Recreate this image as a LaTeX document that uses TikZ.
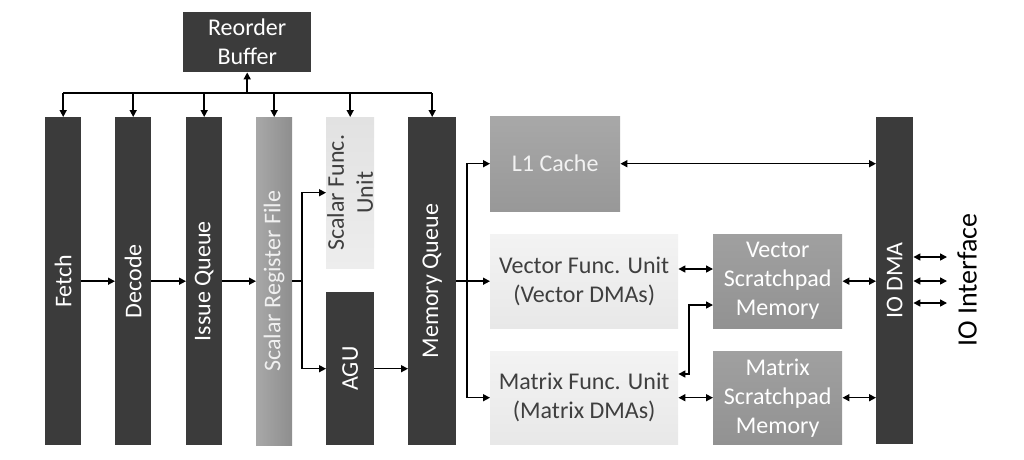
\documentclass[tikz,border=0pt]{standalone}
\usepackage{fontspec}
\setmainfont{Carlito}
\usetikzlibrary{arrows.meta,calc}
\definecolor{darkbar}{HTML}{3B3B3B}
\definecolor{srfL}{HTML}{A8A8A8}
\definecolor{srfR}{HTML}{8E8E8E}
\definecolor{sfuT}{HTML}{E2E2E2}
\definecolor{sfuB}{HTML}{EDEDED}
\definecolor{lgT}{HTML}{A8A8A8}
\definecolor{lgB}{HTML}{989898}
\definecolor{paleT}{HTML}{F3F3F3}
\definecolor{paleB}{HTML}{E8E8E8}
\definecolor{spT}{HTML}{A0A0A0}
\definecolor{spB}{HTML}{929292}
\definecolor{darktext}{HTML}{3F3F3F}
\begin{document}
\begin{tikzpicture}[x=1pt,y=-1pt,
  txt/.style={font=\fontsize{24}{29}\selectfont},
  box/.style={draw=none,inner sep=0pt,anchor=north west,txt,align=center},
  dark/.style={box,fill=darkbar,text=white},
  lab/.style={rotate=90,inner sep=0pt,txt,align=center},
  plain/.style={line width=1.5pt},
  conn/.style={plain,-{Triangle[length=7pt,width=7pt]}},
  bi/.style={plain,{Triangle[length=7pt,width=7pt]}-{Triangle[length=7pt,width=7pt]}}]
\useasboundingbox (0,0) rectangle (1024,459);

% boxes
\node[dark,minimum width=128pt,minimum height=60pt] (rob) at (183,12) {Reorder\\Buffer};
\node[dark,minimum width=36pt,minimum height=328pt,label={[lab,text=white]center:Fetch}] (fetch) at (45,117) {};
\node[dark,minimum width=36pt,minimum height=328pt,label={[lab,text=white]center:Decode}] (decode) at (115,117) {};
\node[dark,minimum width=36pt,minimum height=328pt,label={[lab,text=white]center:Issue Queue}] (iq) at (186,117) {};
\node[box,left color=srfL,right color=srfR,minimum width=36pt,minimum height=328pt,label={[lab,text=white!94!black]center:Scalar Register File}] (srf) at (256,117) {};
\node[box,top color=sfuT,bottom color=sfuB,minimum width=48pt,minimum height=151pt,label={[lab,text=darktext]center:Scalar Func.\\Unit}] (sfu) at (326,117) {};
\node[dark,minimum width=48pt,minimum height=153pt,label={[lab,text=white]center:AGU}] (agu) at (326,292) {};
\node[dark,minimum width=48pt,minimum height=328pt,label={[lab,text=white]center:Memory Queue}] (mq) at (408,117) {};
\node[box,top color=lgT,bottom color=lgB,text=white!95!black,minimum width=130pt,minimum height=95pt] (l1) at (490,116) {L1 Cache};
\node[box,top color=paleT,bottom color=paleB,text=darktext,minimum width=188pt,minimum height=94pt] (vfu) at (490,234) {Vector Func. Unit\\(Vector DMAs)};
\node[box,top color=paleT,bottom color=paleB,text=darktext,minimum width=188pt,minimum height=93pt] (mfu) at (490,351) {Matrix Func. Unit\\(Matrix DMAs)};
\node[box,top color=spT,bottom color=spB,text=white,minimum width=129pt,minimum height=94pt] (vsp) at (713,234) {Vector\\Scratchpad\\Memory};
\node[box,top color=spT,bottom color=spB,text=white,minimum width=129pt,minimum height=93pt] (msp) at (713,351) {Matrix\\Scratchpad\\Memory};
\node[dark,minimum width=37pt,minimum height=327pt,label={[lab,text=white]center:IO DMA}] (io) at (876,117) {};
\node[rotate=90,inner sep=0pt,font=\fontsize{28}{34}\selectfont] (ioif) at (967,280) {IO Interface};

% helper coordinates
\coordinate (bus) at (0,93);
\coordinate (sx) at (302,0);
\coordinate (mx) at (467,0);
\coordinate (jx) at (689,0);
\coordinate (y269) at (0,269);
\coordinate (y305) at (0,305);
\coordinate (y374) at (0,374);
\coordinate (o1) at (947,257);
\coordinate (o2) at (947,281);
\coordinate (o3) at (947,303);

% reorder buffer bus
\draw[plain] (fetch.north |- bus) -- (mq.north |- bus);
\foreach \n in {fetch,decode,iq,srf,sfu,mq} \draw[conn] (\n.north |- bus) -- (\n.north);
\draw[conn] (rob.south |- bus) -- (rob.south);

% pipeline
\draw[conn] (fetch) -- (decode);
\draw[conn] (decode) -- (iq);
\draw[conn] (iq) -- (srf);
\draw[conn] (srf.east) -- (sx |- srf.east) |- (sfu.west);
\draw[conn] (sx |- srf.east) |- (agu.west);
\draw[conn] (agu.east) -- (agu.east -| mq.west);

% memory queue fan-out
\draw[conn] (mq.east) -- (mx |- mq.east) |- (l1.west);
\draw[conn] (mx |- mq.east) |- (mfu.west);
\draw[conn] (mq.east) -- (vfu.west);

% right side
\draw[bi] (l1.east) -- (l1.east -| io.west);
\draw[bi] (vfu.east |- y269) -- (vsp.west |- y269);
\draw[bi] (mfu.east |- y374) -- (jx |- y374) -- (jx |- y305) -- (vsp.west |- y305);
\draw[bi] (vsp.east) -- (vsp.east -| io.west);
\draw[bi] (mfu.east) -- (mfu.east -| msp.west);
\draw[bi] (msp.east) -- (msp.east -| io.west);
\draw[bi] (io.east |- o1) -- (o1);
\draw[bi] (io.east |- o2) -- (o2);
\draw[bi] (io.east |- o3) -- (o3);
\end{tikzpicture}
\end{document}
